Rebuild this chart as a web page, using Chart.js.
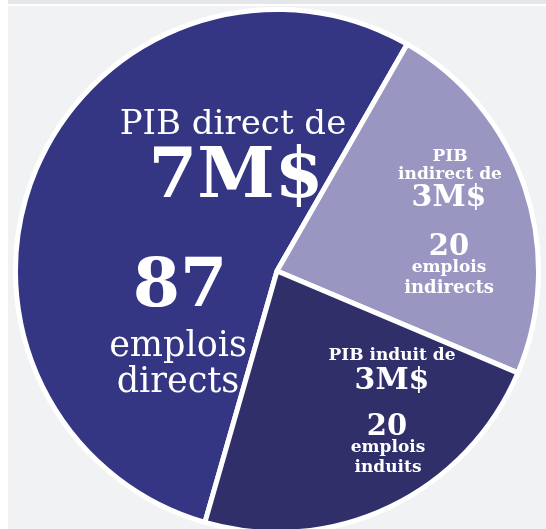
<!DOCTYPE html>
<html>
<head>
<meta charset="utf-8">
<script src="https://cdn.jsdelivr.net/npm/chart.js@4/dist/chart.umd.min.js"></script>
<style>
  html, body { margin: 0; padding: 0; width: 546px; height: 529px; overflow: hidden; background: #fff; }
  #topbar { position: absolute; left: 8px; top: 0; width: 538px; height: 4px; background: #e5e6e9; }
  #panel { position: absolute; left: 8px; top: 6px; width: 538px; height: 523px; background: #f1f2f4; }
  #myChart { position: absolute; left: 13px; top: 7px; }
</style>
</head>
<body>
<div id="topbar"></div>
<div id="panel"></div>
<canvas id="myChart" width="528" height="528"></canvas>
<script>
const categories = ["direct", "indirect", "induit"]
const gdpValues = [7, 3, 3] // M$
const jobValues = [87, 20, 20]
const jobWords = ["directs", "indirects", "induits"]
const colors = ["#343583", "#9997c1", "#302f6a"]

// text lines per slice: [text, dx, dy, size, bold] relative to pie centre
const labelLayout = [
  [
    ["PIB " + categories[0] + " de", -44, -146, 34, false],
    [gdpValues[0] + "M$", -41, -92, 70, true],
    [String(jobValues[0]), -97, 17, 68, true],
    ["emplois", -99, 76, 35, false],
    [jobWords[0], -99, 112, 35, false],
  ],
  [
    ["PIB", 173, -114, 17, true],
    [categories[1] + " de", 173, -96, 17, true],
    [gdpValues[1] + "M$", 172, -73, 30, true],
    [String(jobValues[1]), 172, -24, 29, true],
    ["emplois", 172, -3, 17, true],
    [jobWords[1], 172, 17, 18, true],
  ],
  [
    ["PIB " + categories[2] + " de", 115, 85, 17, true],
    [gdpValues[2] + "M$", 115, 110, 30, true],
    [String(jobValues[2]), 110, 156, 29, true],
    ["emplois", 111, 177, 17, true],
    [jobWords[2], 111, 197, 17, true],
  ],
]

const sliceText = {
  id: "sliceText",
  afterDatasetsDraw(chart) {
    const ctx = chart.ctx
    const arc = chart.getDatasetMeta(0).data[0]
    ctx.save()
    ctx.fillStyle = "#ffffff"
    ctx.textAlign = "center"
    ctx.textBaseline = "middle"
    labelLayout.forEach((lines) => {
      lines.forEach(([text, dx, dy, size, bold]) => {
        ctx.font = (bold ? "bold " : "") + size + "px 'DejaVu Serif', serif"
        ctx.fillText(text, arc.x + dx, arc.y + dy)
      })
    })
    ctx.restore()
  },
}

const data = {
  labels: categories,
  datasets: [
    {
      data: gdpValues,
      backgroundColor: colors,
      borderColor: "#ffffff",
      borderWidth: 5,
    },
  ],
}

const config = {
  type: "pie",
  data: data,
  options: {
    responsive: false,
    animation: false,
    devicePixelRatio: 1,
    rotation: -164,
    layout: { padding: 0 },
    plugins: {
      legend: { display: false },
      tooltip: { enabled: false },
    },
  },
  plugins: [sliceText],
}

const myChart = new Chart(document.getElementById("myChart"), config)
</script>
</body>
</html>
